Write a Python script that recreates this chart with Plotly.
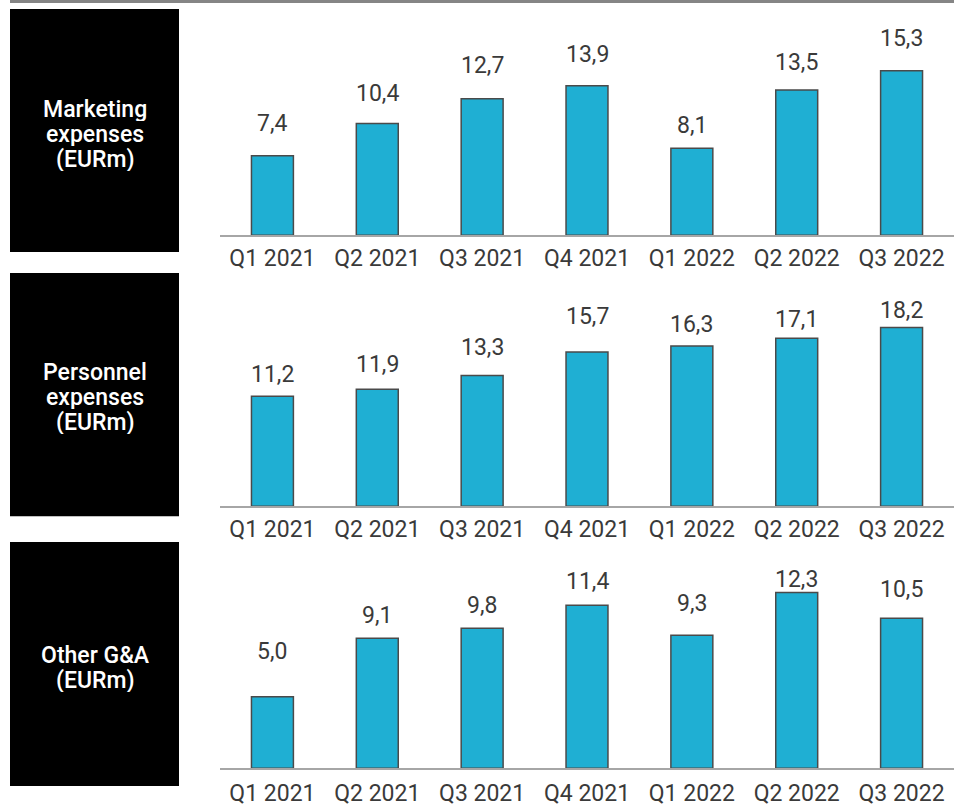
import plotly.graph_objects as go

categories = ["Q1 2021", "Q2 2021", "Q3 2021", "Q4 2021", "Q1 2022", "Q2 2022", "Q3 2022"]
marketing = [7.4, 10.4, 12.7, 13.9, 8.1, 13.5, 15.3]
personnel = [11.2, 11.9, 13.3, 15.7, 16.3, 17.1, 18.2]
other_ga = [5.0, 9.1, 9.8, 11.4, 9.3, 12.3, 10.5]
panel_titles = [["Marketing", "expenses", "(EURm)"],
                ["Personnel", "expenses", "(EURm)"],
                ["Other G&A", "(EURm)"]]
series = [marketing, personnel, other_ga]

# label placement (pixel offset of each value label above its bar, as in the source slide)
label_shift = [
    [32, 30, 33, 31.5, 23, 28, 32],
    [22, 25, 28, 35, 22, 19, 17],
    [45, 23, 23, 24, 31.5, 13, 29],
]

W, H = 954, 807
def py(p):
    return 1 - p / H
def px(p):
    return p / W

# pixel layout per panel: (box_top, box_bottom, axis_top, baseline, ymax, first_title_line_center, standoff)
panels = [
    (9, 254, 9, 237, 21.05, 110, 1),
    (275, 520, 275, 510, 23.74, 375, 1),
    (546, 792, 546, 774, 15.83, 660, 3),
]
LINE_GAP = 25

fig = go.Figure()
bar_color = "#1FAFD3"
text_color = "#3a3a3a"
font_family = "Roboto, Liberation Sans, Arial, sans-serif"

for i, (vals, (bt, bb, at, base, ymax, t0, so)) in enumerate(zip(series, panels)):
    n = "" if i == 0 else str(i + 1)
    fig.add_trace(go.Bar(
        x=categories, y=vals, xaxis="x" + n, yaxis="y" + n,
        marker=dict(color=bar_color, line=dict(color="#4a4a4a", width=1.5)),
        width=0.4, showlegend=False, hoverinfo="skip",
    ))
    for c, v, s in zip(categories, vals, label_shift[i]):
        fig.add_annotation(
            x=c, y=v, xref="x" + n, yref="y" + n, text=f"{v:.1f}".replace(".", ","),
            showarrow=False, yanchor="middle", yshift=s,
            font=dict(size=23, color=text_color, family=font_family),
        )
    fig.update_layout({
        "xaxis" + n: dict(domain=[px(220), 1], anchor="y" + n, showgrid=False,
                          showline=True, linecolor="#a6a6a6", linewidth=2,
                          ticks="", ticklabelstandoff=so,
                          tickfont=dict(size=23, color=text_color, family=font_family),
                          fixedrange=True),
        "yaxis" + n: dict(domain=[py(base), py(at)], anchor="x" + n, range=[0, ymax],
                          visible=False, showgrid=False, zeroline=False, fixedrange=True),
    })
    # black label box
    fig.add_shape(type="rect", xref="paper", yref="paper",
                  x0=px(10), x1=px(179), y0=py(bb), y1=py(bt),
                  fillcolor="black", line=dict(width=0), layer="below")
    for j, line in enumerate(panel_titles[i]):
        yc = t0 + j * LINE_GAP
        fig.add_annotation(
            x=px(95), y=py(yc), xref="paper", yref="paper",
            text=line, showarrow=False, xanchor="center", yanchor="middle",
            height=LINE_GAP - 1, valign="middle",
            font=dict(size=23, color="white", family="Roboto Medium, Roboto, sans-serif", weight=500),
        )

# top rule
fig.add_shape(type="line", xref="paper", yref="paper",
              x0=px(10), x1=1, y0=py(1.5), y1=py(1.5),
              line=dict(color="#858585", width=3))

fig.update_layout(
    width=W, height=H, margin=dict(l=0, r=0, t=0, b=0),
    paper_bgcolor="white", plot_bgcolor="white", bargap=0.6,
    font=dict(family=font_family),
)

fig.write_html("out.html", config={"displayModeBar": False},
               post_script="document.body.style.margin='0';")
